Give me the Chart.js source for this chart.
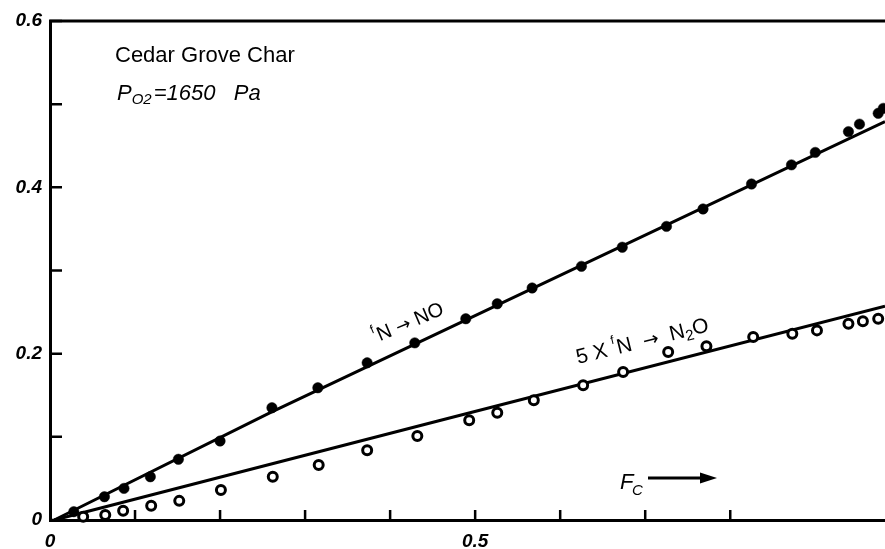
<!DOCTYPE html>
<html>
<head>
<meta charset="utf-8">
<script src="https://cdn.jsdelivr.net/npm/chart.js@4/dist/chart.umd.min.js"></script>
<style>
  html,body{margin:0;padding:0;background:#fff;}
  #wrap{width:885px;height:549px;position:relative;}
</style>
</head>
<body>
<div id="wrap"><canvas id="c"></canvas></div>
<script>
// F_C (fraction of carbon converted)
const fcNO  = [0.028,0.064,0.087,0.118,0.151,0.200,0.261,0.315,0.373,0.429,0.489,0.526,0.567,0.625,0.673,0.725,0.768,0.825,0.872,0.900,0.939,0.952,0.974,0.980];
// fN -> NO
const fNO   = [0.010,0.028,0.038,0.052,0.073,0.095,0.135,0.159,0.189,0.213,0.242,0.260,0.279,0.305,0.328,0.353,0.374,0.404,0.427,0.442,0.467,0.476,0.489,0.495];

const fcN2O = [0.039,0.065,0.086,0.119,0.152,0.201,0.262,0.316,0.373,0.432,0.493,0.526,0.569,0.627,0.674,0.727,0.772,0.827,0.873,0.902,0.939,0.956,0.974];
// 5 x fN -> N2O
const fN2O  = [0.004,0.006,0.011,0.017,0.023,0.036,0.052,0.066,0.084,0.101,0.120,0.129,0.144,0.162,0.178,0.202,0.209,0.220,0.224,0.228,0.236,0.239,0.242];

// drawn curves
const fitNOx  = [0.005,0.259,0.982];
const fitNOy  = [0,0.129,0.479];
const fitN2Ox = [0.005,0.471,0.982];
const fitN2Oy = [0,0.123,0.257];

const yTickLabels = {0:'0',2:'0.2',4:'0.4',6:'0.6'};
const xTickLabels = {0:'0',5:'0.5'};

const pts = (xs,ys)=>xs.map((x,i)=>({x,y:ys[i]}));
const SANS = '"Liberation Sans", Arial, sans-serif';
const ARROW = '"DejaVu Sans", sans-serif';
const onTenth = s=>{ s.ticks = s.ticks.filter(t=>Math.abs(t.value*10-Math.round(t.value*10))<1e-6); };

// inward ticks, top frame line, text annotations
const decor = {
  id:'decor',
  afterDraw(chart){
    const {ctx, chartArea:a, scales:{x,y}} = chart;
    ctx.save();
    ctx.strokeStyle='#000'; ctx.lineWidth=2.5;
    ctx.beginPath();
    y.ticks.forEach(t=>{ const py=y.getPixelForValue(t.value); ctx.moveTo(a.left,py); ctx.lineTo(a.left+12,py); });
    x.ticks.forEach(t=>{ if(t.value===0) return; const px=x.getPixelForValue(t.value); ctx.moveTo(px,a.bottom); ctx.lineTo(px,a.bottom-10); });
    ctx.stroke();
    // top line
    ctx.lineWidth=3;
    ctx.beginPath(); ctx.moveTo(a.left-1,a.top); ctx.lineTo(chart.width,a.top); ctx.stroke();

    ctx.fillStyle='#000'; ctx.textBaseline='alphabetic'; ctx.textAlign='left';
    ctx.font='22px '+SANS;
    ctx.fillText('Cedar Grove Char',115,62);

    // P_O2 = 1650  Pa
    let cx=117;
    const seq=(parts,base)=>{ parts.forEach(p=>{ ctx.font=p.f; ctx.fillText(p.t,cx,base+(p.dy||0)); cx+=ctx.measureText(p.t).width+(p.gap||0); }); };
    seq([{t:'P',f:'italic 22px '+SANS},{t:'O2',f:'italic 15px '+SANS,dy:4,gap:2},{t:'=1650',f:'italic 22px '+SANS,gap:0},{t:'   Pa',f:'italic 22px '+SANS}],100);

    // fN -> NO
    ctx.save();
    ctx.translate(376,343); ctx.rotate(-23*Math.PI/180);
    cx=0;
    seq([{t:'f',f:'12px '+SANS,dy:-10,gap:1},{t:'N ',f:'20px '+SANS},{t:'\u2192',f:'18px '+ARROW},{t:' NO',f:'20px '+SANS}],0);
    ctx.restore();

    // 5 x fN -> N2O
    ctx.save();
    ctx.translate(578,364); ctx.rotate(-14*Math.PI/180);
    cx=0;
    seq([{t:'5 X ',f:'21px '+SANS},{t:'f',f:'12px '+SANS,dy:-11,gap:1},{t:'N  ',f:'21px '+SANS},{t:'\u2192',f:'19px '+ARROW},{t:'  N',f:'21px '+SANS},{t:'2',f:'15px '+SANS,dy:4},{t:'O',f:'21px '+SANS}],0);
    ctx.restore();

    // F_C arrow
    ctx.font='italic 22px '+SANS; ctx.fillText('F',620,489);
    ctx.font='italic 15px '+SANS; ctx.fillText('C',632,495);
    ctx.lineWidth=3;
    ctx.beginPath(); ctx.moveTo(648,478); ctx.lineTo(702,478); ctx.stroke();
    ctx.beginPath(); ctx.moveTo(700,472.5); ctx.lineTo(717,478); ctx.lineTo(700,483.5); ctx.closePath(); ctx.fill();
    ctx.restore();
  }
};

new Chart(document.getElementById('c'),{
  type:'scatter',
  data:{datasets:[
    {label:'fN->NO', data:pts(fcNO,fNO), pointRadius:5.2, pointBackgroundColor:'#000', pointBorderColor:'#000', pointBorderWidth:0.5, showLine:false, order:1},
    {label:'5 x fN->N2O', data:pts(fcN2O,fN2O), pointRadius:4.5, pointBackgroundColor:'#fff', pointBorderColor:'#000', pointBorderWidth:3, showLine:false, order:1},
    {label:'fit NO', data:pts(fitNOx,fitNOy), showLine:true, pointRadius:0, borderColor:'#000', borderWidth:3, order:2},
    {label:'fit N2O', data:pts(fitN2Ox,fitN2Oy), showLine:true, pointRadius:0, borderColor:'#000', borderWidth:3, order:2}
  ]},
  options:{
    responsive:true, maintainAspectRatio:false, animation:false,
    clip:false,
    layout:{autoPadding:false, padding:{top:21,right:0,left:0,bottom:0}},
    plugins:{legend:{display:false},tooltip:{enabled:false}},
    scales:{
      x:{type:'linear',min:0,max:0.982,
        afterBuildTicks:onTenth,
        afterFit:s=>{s.height=29; s.paddingRight=0; s.paddingLeft=0;},
        grid:{display:false,drawTicks:false},
        border:{display:true,color:'#000',width:3},
        ticks:{stepSize:0.1,padding:10,color:'#000',maxRotation:0,autoSkip:false,
          font:{family:SANS,size:19,style:'italic',weight:'bold'},
          callback:v=>xTickLabels[Math.round(v*10)]||''}
      },
      y:{type:'linear',min:0,max:0.6,
        afterBuildTicks:onTenth,
        afterFit:s=>{s.width=50; s.paddingTop=0; s.paddingBottom=0;},
        grid:{display:false,drawTicks:false},
        border:{display:true,color:'#000',width:3},
        ticks:{stepSize:0.1,padding:8,color:'#000',autoSkip:false,
          font:{family:SANS,size:19,style:'italic',weight:'bold'},
          callback:v=>yTickLabels[Math.round(v*10)]||''}
      }
    }
  },
  plugins:[decor]
});
</script>
</body>
</html>
